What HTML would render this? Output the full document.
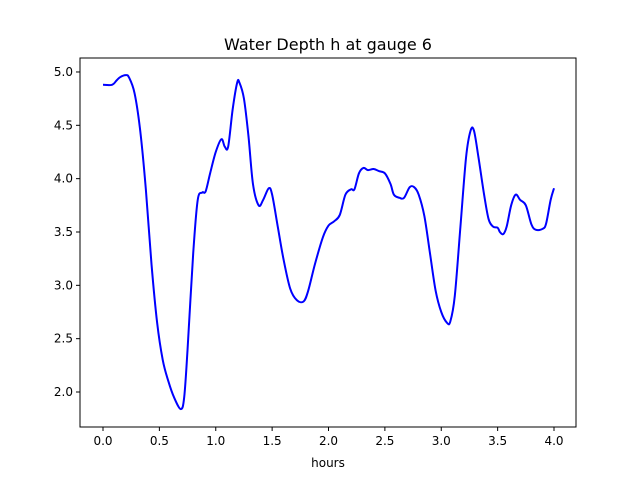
<!DOCTYPE html>
<html><head><meta charset="utf-8"><style>
body{margin:0;background:#fff;font-family:"Liberation Sans","DejaVu Sans",sans-serif;}
svg text{font-family:"DejaVu Sans","Liberation Sans",sans-serif;}
</style></head><body>
<svg id="chart" width="640" height="480" viewBox="0 0 640 480">
<rect width="640" height="480" fill="#fff"/>
<text x="328" y="50" font-size="16" text-anchor="middle">Water Depth h at gauge 6</text>
<g id="plot"></g>
<rect x="80" y="58" width="496" height="369" fill="none" stroke="#000" stroke-width="1"/>
<text x="328" y="467" font-size="12" text-anchor="middle">hours</text>
</svg>
<script>
const hours=[0,0.08,0.12,0.15,0.2,0.23,0.28,0.33,0.38,0.43,0.48,0.53,0.58,0.63,0.69,0.72,0.75,0.8,0.84,0.88,0.91,0.95,1.0,1.05,1.08,1.11,1.15,1.19,1.21,1.25,1.29,1.33,1.38,1.42,1.47,1.5,1.55,1.6,1.66,1.72,1.78,1.82,1.88,1.95,2.0,2.05,2.1,2.15,2.2,2.23,2.27,2.31,2.35,2.4,2.45,2.5,2.55,2.58,2.63,2.67,2.72,2.76,2.8,2.85,2.9,2.95,3.0,3.05,3.08,3.12,3.17,3.22,3.26,3.29,3.33,3.38,3.42,3.46,3.5,3.52,3.55,3.58,3.62,3.66,3.7,3.75,3.8,3.84,3.9,3.93,3.97,4.0];
const depth=[4.88,4.88,4.92,4.95,4.97,4.95,4.8,4.45,3.9,3.2,2.65,2.3,2.1,1.95,1.84,1.95,2.4,3.3,3.8,3.87,3.88,4.05,4.25,4.37,4.3,4.3,4.65,4.9,4.9,4.75,4.4,3.95,3.75,3.8,3.91,3.85,3.55,3.25,2.97,2.86,2.85,2.95,3.2,3.45,3.56,3.6,3.66,3.85,3.9,3.9,4.05,4.1,4.08,4.09,4.07,4.05,3.95,3.85,3.82,3.82,3.92,3.92,3.85,3.65,3.3,2.95,2.75,2.65,2.66,2.9,3.55,4.2,4.45,4.45,4.2,3.85,3.62,3.55,3.54,3.5,3.48,3.55,3.75,3.85,3.8,3.75,3.57,3.52,3.53,3.58,3.8,3.91];
const xTicks=[0,0.5,1,1.5,2,2.5,3,3.5,4];
const yTicks=[2,2.5,3,3.5,4,4.5,5];
const NS='http://www.w3.org/2000/svg';
const X0=-0.204,X1=4.195,Y0=1.672,Y1=5.131;
const L=80,R=576,T=58,B=427;
const sx=v=>L+(v-X0)/(X1-X0)*(R-L);
const sy=v=>B-(v-Y0)/(Y1-Y0)*(B-T);
const g=document.getElementById('plot');
function mk(t,a){const e=document.createElementNS(NS,t);for(const k in a)e.setAttribute(k,a[k]);g.appendChild(e);return e;}
xTicks.forEach(v=>{
 const l=mk('line',{x1:sx(v),x2:sx(v),y1:B,y2:B+4,stroke:'#000'});
 
 
 const t=mk('text',{x:sx(v),y:B+18,'font-size':12,'text-anchor':'middle'});
 t.textContent=v.toFixed(1);
 
 
});
yTicks.forEach(v=>{
 const l=mk('line',{x1:L-4,x2:L,y1:sy(v),y2:sy(v),stroke:'#000'});
 
 
 const t=mk('text',{x:L-7,y:sy(v)+4,'font-size':12,'text-anchor':'end'});
 t.textContent=v.toFixed(1);
 
 
});
const P=hours.map((h,i)=>[sx(h),sy(depth[i])]);
let d='M'+P[0][0]+','+P[0][1];
for(let i=0;i<P.length-1;i++){
 const p0=P[Math.max(0,i-1)],p1=P[i],p2=P[i+1],p3=P[Math.min(P.length-1,i+2)];
 const c1=[p1[0]+(p2[0]-p0[0])/6,p1[1]+(p2[1]-p0[1])/6];
 const c2=[p2[0]-(p3[0]-p1[0])/6,p2[1]-(p3[1]-p1[1])/6];
 d+=' C'+c1+' '+c2+' '+p2;
}
const line=mk('path',{d:d,fill:'none',stroke:'#0000ff','stroke-width':2});


</script>
</body></html>
